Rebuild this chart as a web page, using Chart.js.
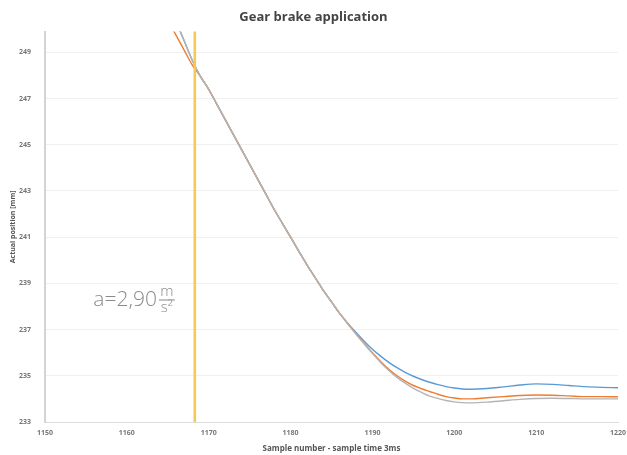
<!DOCTYPE html>
<html>
<head>
<meta charset="utf-8">
<script src="https://cdn.jsdelivr.net/npm/chart.js@4/dist/chart.umd.min.js"></script>
<style>
  html, body { margin: 0; padding: 0; background: #fff; }
  #wrap { width: 627px; height: 455px; position: relative; }
</style>
</head>
<body>
<div id="wrap"><canvas id="chart"></canvas></div>
<script>
// sample numbers (3 ms per sample)
const samples = [1165, 1166, 1167, 1168, 1169, 1170, 1171, 1172, 1173, 1174,
  1175, 1176, 1177, 1178, 1179, 1180, 1181, 1182, 1183, 1184,
  1185, 1186, 1187, 1188, 1189, 1190, 1191, 1192, 1193, 1194,
  1195, 1196, 1197, 1198, 1199, 1200, 1201, 1202,
  1204, 1206, 1208, 1210, 1212, 1214, 1216, 1218, 1220];

// actual position [mm]
const seriesBlue = [251.2, 250.35, 249.5, 248.65, 247.95, 247.4, 246.75, 246.1, 245.45, 244.8,
  244.15, 243.5, 242.85, 242.2, 241.6, 241.0, 240.4, 239.8, 239.25, 238.7,
  238.2, 237.7, 237.27, 236.88, 236.5, 236.15, 235.85, 235.58, 235.35, 235.15,
  234.98, 234.84, 234.72, 234.62, 234.53, 234.47, 234.43, 234.42,
  234.45, 234.52, 234.6, 234.65, 234.63, 234.58, 234.53, 234.5, 234.48];
const seriesOrange = [250.4, 249.75, 249.1, 248.45, 247.95, 247.4, 246.75, 246.1, 245.45, 244.8,
  244.15, 243.5, 242.85, 242.2, 241.6, 241.0, 240.4, 239.8, 239.25, 238.7,
  238.2, 237.7, 237.25, 236.82, 236.4, 236.0, 235.62, 235.28, 235.0, 234.77,
  234.58, 234.44, 234.32, 234.2, 234.1, 234.04, 234.0, 234.0,
  234.05, 234.1, 234.15, 234.17, 234.16, 234.13, 234.1, 234.1, 234.09];
const seriesGray = [251.2, 250.35, 249.5, 248.65, 247.95, 247.4, 246.75, 246.1, 245.45, 244.8,
  244.15, 243.5, 242.85, 242.2, 241.6, 241.0, 240.4, 239.8, 239.25, 238.7,
  238.2, 237.7, 237.25, 236.8, 236.38, 235.97, 235.58, 235.23, 234.93, 234.68,
  234.46, 234.28, 234.12, 234.02, 233.93, 233.87, 233.84, 233.83,
  233.86, 233.92, 233.98, 234.02, 234.03, 234.02, 234.0, 234.0, 234.0];

const xTicks = [1150, 1160, 1170, 1180, 1190, 1200, 1210, 1220];
const yTicks = [233, 235, 237, 239, 241, 243, 245, 247, 249];

// brake application marker
const brakeSample = 1168.3;
const brakeLine = [233, 250];
const accelText = 'a=2,90';
const accelAt = { x: 1155.9, y: 238.0 };

function pts(vals) {
  return samples.map((s, i) => ({ x: s, y: vals[i] }));
}

const accelLabel = {
  id: 'accelLabel',
  afterDatasetsDraw(chart) {
    const { ctx, scales } = chart;
    const x = scales.x.getPixelForValue(accelAt.x);
    const y = scales.y.getPixelForValue(accelAt.y);
    ctx.save();
    ctx.fillStyle = '#8a8a8a';
    ctx.font = '300 21px "Open Sans"';
    ctx.textBaseline = 'alphabetic';
    ctx.textAlign = 'left';
    ctx.fillText(accelText, x, y);
    const w = ctx.measureText(accelText).width;
    const fx = x + w + 10;
    ctx.font = '300 15px "Open Sans"';
    ctx.textAlign = 'center';
    ctx.fillText('m', fx, y - 10);
    ctx.fillText('s²', fx, y + 6);
    ctx.strokeStyle = '#8a8a8a';
    ctx.lineWidth = 1;
    ctx.beginPath();
    ctx.moveTo(fx - 8, y - 6.5);
    ctx.lineTo(fx + 8, y - 6.5);
    ctx.stroke();
    ctx.restore();
  }
};

const lineStyle = { borderWidth: 1.4, pointRadius: 0, fill: false, cubicInterpolationMode: 'monotone' };
const tickFont = { family: 'Open Sans', size: 7, weight: 'bold' };

new Chart(document.getElementById('chart'), {
  type: 'line',
  data: {
    datasets: [
      { label: 'brake', data: brakeLine.map(v => ({ x: brakeSample, y: v })), borderColor: '#f6ca52', borderWidth: 2.6, pointRadius: 0, order: 0 },
      { label: 'C', data: pts(seriesGray), borderColor: '#b4b4b4', ...lineStyle, order: 1 },
      { label: 'B', data: pts(seriesOrange), borderColor: '#ed7d31', ...lineStyle, order: 2 },
      { label: 'A', data: pts(seriesBlue), borderColor: '#5b9bd5', ...lineStyle, order: 3 }
    ]
  },
  options: {
    responsive: true,
    maintainAspectRatio: false,
    animation: false,
    layout: { padding: { top: 7, right: 9, left: 9, bottom: 1 } },
    plugins: {
      legend: { display: false },
      tooltip: { enabled: false },
      title: {
        display: true,
        text: 'Gear brake application',
        color: '#444',
        font: { family: 'Open Sans', size: 13, weight: 'bold' },
        padding: { top: 2, bottom: 7 }
      }
    },
    scales: {
      x: {
        type: 'linear',
        min: 1150,
        max: 1220,
        afterBuildTicks: axis => { axis.ticks = xTicks.map(v => ({ value: v })); },
        afterFit: s => { s.paddingRight = 0; s.paddingLeft = 0; },
        grid: { display: false, drawTicks: false },
        border: { color: '#dcdcdc', width: 1, dash: [2, 3] },
        ticks: { color: '#777', font: tickFont, padding: 7, maxRotation: 0, callback: v => String(v) },
        title: {
          display: true,
          text: 'Sample number - sample time 3ms',
          color: '#555',
          font: { family: 'Open Sans', size: 8, weight: 'bold' },
          padding: { top: 0, bottom: 0 }
        }
      },
      y: {
        min: 233,
        max: 249.9,
        afterBuildTicks: axis => { axis.ticks = yTicks.map(v => ({ value: v })); },
        afterFit: s => { s.width = 36; },
        grid: { color: '#f0f0f0', lineWidth: 1, drawTicks: false },
        border: { color: '#d4d4d4', width: 2 },
        ticks: { color: '#777', font: tickFont, padding: 14, callback: v => String(v) },
        title: {
          display: true,
          text: 'Actual position [mm]',
          color: '#555',
          font: { family: 'Open Sans', size: 7, weight: 'bold' },
          padding: { top: 0, bottom: 2 }
        }
      }
    }
  },
  plugins: [accelLabel]
});
</script>
</body>
</html>
